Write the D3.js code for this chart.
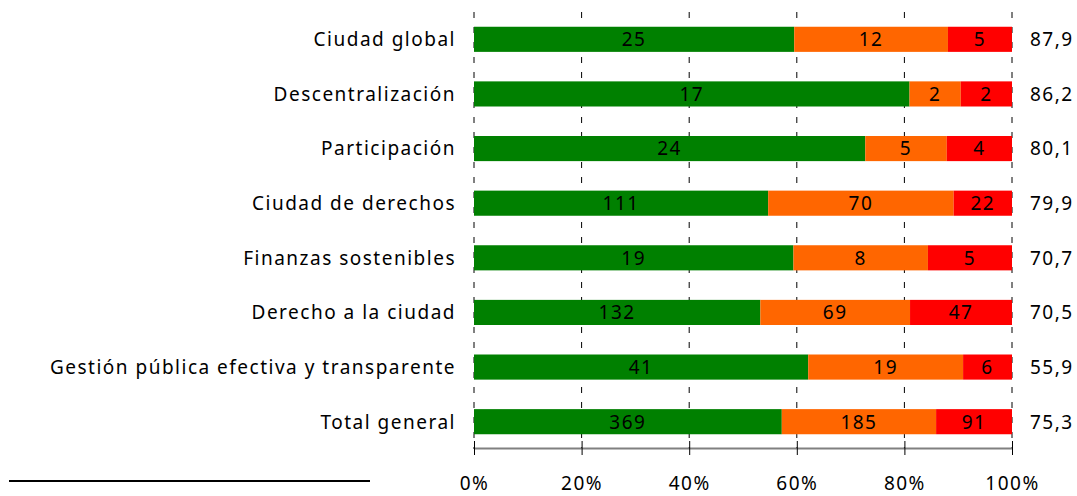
<!DOCTYPE html>
<html>
<head>
<meta charset="utf-8">
<script src="https://cdn.jsdelivr.net/npm/d3@7"></script>
<style>
  body { margin: 0; background: #fff; }
  svg text { font-family: 'Noto Sans', sans-serif; fill: #000; font-size: 19px; letter-spacing: 1.5px; }
</style>
</head>
<body>
<div id="chart"></div>
<script>
// datos del gráfico
const categorias = ['Ciudad global', 'Descentralización', 'Participación', 'Ciudad de derechos',
  'Finanzas sostenibles', 'Derecho a la ciudad', 'Gestión pública efectiva y transparente', 'Total general'];
const verde = [25, 17, 24, 111, 19, 132, 41, 369];
const naranja = [12, 2, 5, 70, 8, 69, 19, 185];
const rojo = [5, 2, 4, 22, 5, 47, 6, 91];
const indice = [87.9, 86.2, 80.1, 79.9, 70.7, 70.5, 55.9, 75.3];
const ticksX = [0, 0.2, 0.4, 0.6, 0.8, 1];

const colores = ['#008000', '#ff6600', '#ff0000'];

const width = 1077, height = 496;

let svg = d3.select('#chart').append('svg')
  .attr('width', width)
  .attr('height', height);

let x = d3.scaleLinear().domain([0, 1]).range([474, 1012]);
let y = d3.scaleBand().domain(categorias).range([12, 449])
  .paddingInner(0.54).paddingOuter(0.27);

// tabla para el apilado
let filas = categorias.map((c, i) => {
  let total = verde[i] + naranja[i] + rojo[i];
  return { cat: c, vals: [verde[i], naranja[i], rojo[i]], total: total };
});

let segmentos = [];
filas.forEach(f => {
  let acc = 0;
  f.vals.forEach((v, k) => {
    segmentos.push({ cat: f.cat, v: v, k: k, x0: acc / f.total, x1: (acc + v) / f.total });
    acc += v;
  });
});

// líneas de cuadrícula (detrás de las barras)
svg.append('g')
  .selectAll('line')
  .data(ticksX)
  .enter()
    .append('line')
    .attr('x1', d => x(d)).attr('x2', d => x(d))
    .attr('y1', 12).attr('y2', 449)
    .attr('stroke', '#000')
    .attr('stroke-width', 1)
    .attr('stroke-dasharray', '6,9');

// barras
svg.append('g')
  .selectAll('rect')
  .data(segmentos)
  .enter()
    .append('rect')
    .attr('x', d => x(d.x0))
    .attr('width', d => x(d.x1) - x(d.x0))
    .attr('y', d => y(d.cat))
    .attr('height', y.bandwidth())
    .attr('fill', d => colores[d.k]);

// etiquetas de los segmentos
svg.append('g')
  .selectAll('text')
  .data(segmentos)
  .enter()
    .append('text')
    .attr('x', d => (x(d.x0) + x(d.x1)) / 2)
    .attr('y', d => y(d.cat) + y.bandwidth() / 2)
    .attr('dy', '0.36em')
    .attr('text-anchor', 'middle')
    .text(d => d.v);

// etiquetas de categorías
svg.append('g')
  .selectAll('text')
  .data(categorias)
  .enter()
    .append('text')
    .attr('x', 456)
    .attr('y', d => y(d) + y.bandwidth() / 2)
    .attr('dy', '0.36em')
    .attr('text-anchor', 'end')
    .text(d => d);

// índice a la derecha
let fmt = d3.format('.1f');
svg.append('g')
  .selectAll('text')
  .data(indice)
  .enter()
    .append('text')
    .attr('x', 1030)
    .attr('y', (d, i) => y(categorias[i]) + y.bandwidth() / 2)
    .attr('dy', '0.36em')
    .text(d => fmt(d).replace('.', ','));

// eje x
let eje = svg.append('g')
  .attr('transform', 'translate(0,448)')
  .call(d3.axisBottom(x).tickValues(ticksX).tickFormat(d3.format('.0%')).tickSize(0).tickPadding(29));
eje.select('.domain').attr('stroke', '#808080').attr('stroke-width', 2);
eje.selectAll('text').attr('font-size', null).attr('font-family', null);
eje.selectAll('.tick')
  .append('line')
  .attr('y1', -7).attr('y2', 7)
  .attr('stroke', '#000');

// línea de nota al pie
svg.append('line')
  .attr('x1', 9).attr('x2', 370)
  .attr('y1', 481).attr('y2', 481)
  .attr('stroke', '#000')
  .attr('stroke-width', 2);
</script>
</body>
</html>
